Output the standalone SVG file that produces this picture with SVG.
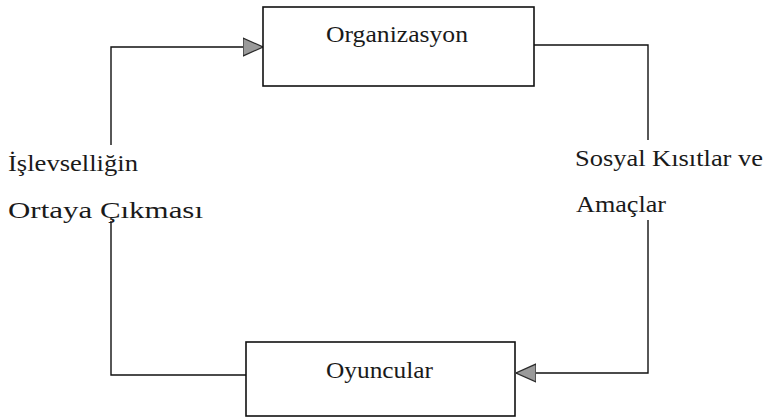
<svg xmlns="http://www.w3.org/2000/svg" width="765" height="418" viewBox="0 0 765 418">
  <style>
    .box { fill: #ffffff; stroke: #111111; stroke-width: 1.6; }
    .wire { fill: none; stroke: #111111; stroke-width: 1.4; }
    .label { font-family: "Liberation Serif", "DejaVu Serif", serif; font-size: 24px; fill: #1a1a1a; }
  </style>
  <defs>
    <marker id="tri" viewBox="0 0 20 20" refX="20" refY="10" markerWidth="20" markerHeight="20" markerUnits="userSpaceOnUse" orient="auto">
      <path d="M0,1 L20,10 L0,19 Z" fill="#9a9a9a" stroke="#2a2a2a" stroke-width="1.2"/>
    </marker>
  </defs>
  <rect width="765" height="418" fill="#ffffff"/>

  <g id="connectors">
    <!-- feedback loop: Oyuncular -> Organizasyon -->
    <path class="wire" d="M246,375 H111 V221"/>
    <path class="wire" d="M111,145 V47 H263" marker-end="url(#tri)"/>
    <!-- Organizasyon -> Oyuncular -->
    <path class="wire" d="M534,45 H648 V140"/>
    <path class="wire" d="M648,220 V373 H516" marker-end="url(#tri)"/>
  </g>

  <g id="organizasyon">
    <rect class="box" x="263" y="7" width="271" height="79"/>
    <text class="label" x="326" y="42" textLength="142" lengthAdjust="spacingAndGlyphs">Organizasyon</text>
  </g>

  <g id="oyuncular">
    <rect class="box" x="246" y="342" width="269" height="74"/>
    <text class="label" x="326" y="378" textLength="107" lengthAdjust="spacingAndGlyphs">Oyuncular</text>
  </g>

  <g id="label-islevsellik">
    <text class="label" x="8" y="171" textLength="130" lengthAdjust="spacingAndGlyphs">İşlevselliğin</text>
    <text class="label" x="8" y="218" textLength="195" lengthAdjust="spacingAndGlyphs">Ortaya Çıkması</text>
  </g>

  <g id="label-kisitlar">
    <text class="label" x="575" y="166" textLength="188" lengthAdjust="spacingAndGlyphs">Sosyal Kısıtlar ve</text>
    <text class="label" x="576" y="212" textLength="90" lengthAdjust="spacingAndGlyphs">Amaçlar</text>
  </g>
</svg>
